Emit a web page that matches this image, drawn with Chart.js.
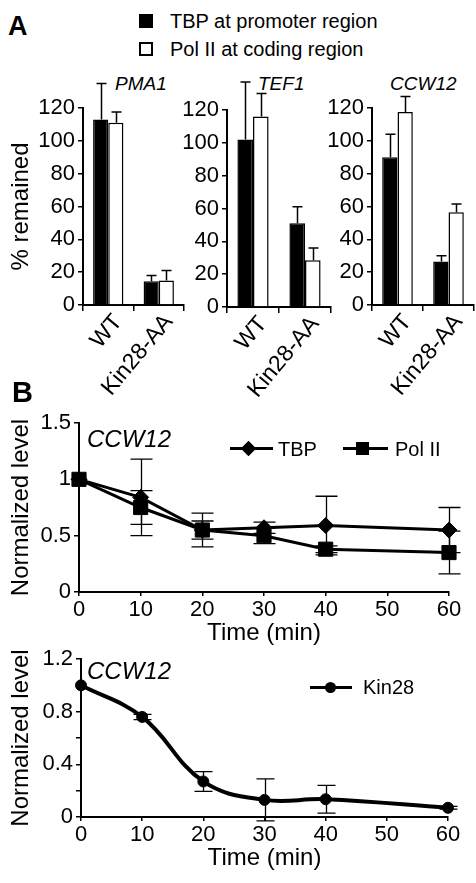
<!DOCTYPE html>
<html>
<head>
<meta charset="utf-8">
<script src="https://cdn.jsdelivr.net/npm/chart.js@4.4.0/dist/chart.umd.min.js"></script>
<style>
body{margin:0;width:476px;height:883px;background:#fff;position:relative;overflow:hidden;font-family:'Liberation Sans',Arial,sans-serif;color:#000}
canvas{position:absolute}
.t{position:absolute;white-space:nowrap;line-height:1}
.gene{font-style:italic}
.sq{position:absolute;width:14px;height:14px;box-sizing:border-box;border:2px solid #000}
.ln{position:absolute;height:3px;background:#000}
.mk{position:absolute;background:#000}
</style>
</head>
<body>
<div class="t" style="left:8px;top:13px;font-size:27px;font-weight:bold">A</div>
<div class="sq" style="left:139px;top:14px;background:#000"></div>
<div class="t" style="left:170px;top:11px;font-size:20px">TBP at promoter region</div>
<div class="sq" style="left:139px;top:42px;background:#fff"></div>
<div class="t" style="left:170px;top:39px;font-size:20px">Pol II at coding region</div>
<div class="t gene" style="left:115px;top:74px;font-size:19px">PMA1</div>
<div class="t gene" style="left:258px;top:74px;font-size:19px">TEF1</div>
<div class="t gene" style="left:390px;top:74px;font-size:19px">CCW12</div>

<canvas id="a1" width="190" height="340" style="left:0;top:60px"></canvas>
<canvas id="a2" width="170" height="340" style="left:170px;top:62px"></canvas>
<canvas id="a3" width="156" height="340" style="left:320px;top:60px"></canvas>

<div class="t" style="left:12px;top:378px;font-size:29px;font-weight:bold">B</div>
<canvas id="b1" width="476" height="250" style="left:0;top:400px"></canvas>
<canvas id="b2" width="476" height="243" style="left:0;top:640px"></canvas>

<div class="t gene" style="left:87px;top:427px;font-size:24px">CCW12</div>
<div class="ln" style="left:230px;top:447px;width:43px"></div>
<div class="mk" style="left:243px;top:443px;width:11px;height:11px;transform:rotate(45deg)"></div>
<div class="t" style="left:278px;top:439px;font-size:20px">TBP</div>
<div class="ln" style="left:343px;top:447px;width:45px"></div>
<div class="mk" style="left:356px;top:442px;width:13px;height:13px"></div>
<div class="t" style="left:395px;top:439px;font-size:20px">Pol II</div>

<div class="t gene" style="left:87px;top:659px;font-size:24px">CCW12</div>
<div class="ln" style="left:310px;top:686px;width:42px"></div>
<div class="mk" style="left:325px;top:682px;width:11px;height:11px;border-radius:50%"></div>
<div class="t" style="left:363px;top:677px;font-size:20px">Kin28</div>

<script>
// panel A: % remained
const strains = ['WT', 'Kin28-AA'];
const pctTicks = [0, 20, 40, 60, 80, 100, 120];
const tbpPMA1 = [113, 14.5], tbpPMA1Err = [22, 3.5];
const polPMA1 = [111, 15], polPMA1Err = [6.5, 6];
const tbpTEF1 = [102, 51], tbpTEF1Err = [35, 10];
const polTEF1 = [116, 28.5], polTEF1Err = [14, 7.5];
const tbpCCW12 = [90, 26.5], tbpCCW12Err = [14, 3.5];
const polCCW12 = [117.5, 56.5], polCCW12Err = [9.5, 5];

// panel B: time course
const timeMin = [0, 10, 20, 30, 40, 60];
const timeTicks = [0, 10, 20, 30, 40, 50, 60];
const tbpLevel = [1, 0.84, 0.55, 0.57, 0.59, 0.55];
const tbpLevelErr = [0, 0.34, 0.08, 0.05, 0.26, 0.2];
const polLevel = [1, 0.75, 0.55, 0.5, 0.38, 0.35];
const polLevelErr = [0, 0.15, 0.15, 0.07, 0.03, 0.19];
const kinLevel = [1, 0.76, 0.27, 0.13, 0.135, 0.07];
const kinLevelErr = [0, 0.02, 0.075, 0.16, 0.105, 0.01];

Chart.defaults.font.family = "'Liberation Sans', Arial, sans-serif";
Chart.defaults.color = '#000';

const errorBars = {
  id: 'errorBars',
  draw(chart, o) {
    const ctx = chart.ctx;
    chart.data.datasets.forEach((ds, i) => {
      if (!ds.errors) return;
      const meta = chart.getDatasetMeta(i);
      const ys = chart.scales[meta.yAxisID];
      ctx.save();
      ctx.strokeStyle = '#000';
      ctx.lineWidth = o.width;
      meta.data.forEach((el, j) => {
        const e = ds.errors[j];
        if (!e) return;
        const d = ds.data[j];
        const v = typeof d === 'object' ? d.y : d;
        const top = ys.getPixelForValue(v + e);
        const bot = o.upOnly ? el.y : ys.getPixelForValue(v - e);
        const x = Math.round(el.x) + 0.5;
        ctx.beginPath();
        ctx.moveTo(x, bot); ctx.lineTo(x, top);
        ctx.moveTo(x - o.cap / 2, top); ctx.lineTo(x + o.cap / 2, top);
        if (!o.upOnly) { ctx.moveTo(x - o.cap / 2, bot); ctx.lineTo(x + o.cap / 2, bot); }
        ctx.stroke();
      });
      ctx.restore();
    });
  },
  beforeDatasetsDraw(chart, args, o) { if (o.behind) this.draw(chart, o); },
  afterDatasetsDraw(chart, args, o) { if (!o.behind) this.draw(chart, o); }
};

function barChart(id, tbp, tbpErr, pol, polErr, yWidth, padLeft, padRight, title) {
  return new Chart(document.getElementById(id), {
    type: 'bar',
    data: {
      labels: strains,
      datasets: [
        { label: 'TBP at promoter region', data: tbp, errors: tbpErr, backgroundColor: '#000', borderColor: '#000', borderWidth: 1.5 },
        { label: 'Pol II at coding region', data: pol, errors: polErr, backgroundColor: '#fff', borderColor: '#000', borderWidth: 1.5 }
      ]
    },
    plugins: [errorBars],
    options: {
      responsive: false,
      animation: false,
      categoryPercentage: 0.6,
      barPercentage: 1,
      layout: { padding: { left: padLeft, right: padRight, top: 48, bottom: 0 } },
      plugins: {
        legend: { display: false },
        tooltip: { enabled: false },
        errorBars: { width: 1.5, cap: 10, upOnly: true }
      },
      scales: {
        x: {
          grid: { drawOnChartArea: false, tickLength: 6, color: '#000', lineWidth: 1.5 },
          border: { color: '#000', width: 2 },
          ticks: { minRotation: 50, maxRotation: 50, font: { size: 23 }, padding: -2, labelOffset: 10 },
          afterFit(s) { s.height = 95; }
        },
        y: {
          min: 0, max: 120,
          afterBuildTicks(s) { s.ticks = pctTicks.map(v => ({ value: v })); },
          grid: { drawOnChartArea: false, tickLength: 5, color: '#000', lineWidth: 1.5 },
          border: { color: '#000', width: 2 },
          ticks: { font: { size: 22 }, padding: 3 },
          title: { display: !!title, text: title, font: { size: 24 }, padding: { top: 3, bottom: 0 } },
          afterFit(s) { s.width = yWidth; }
        }
      }
    }
  });
}

barChart('a1', tbpPMA1, tbpPMA1Err, polPMA1, polPMA1Err, 79, 4, 6, '% remained');
barChart('a2', tbpTEF1, tbpTEF1Err, polTEF1, polTEF1Err, 57, 0, 9, '');
barChart('a3', tbpCCW12, tbpCCW12Err, polCCW12, polCCW12Err, 52, 0, 2, '');

function pts(ys) { return timeMin.map((t, i) => ({ x: t, y: ys[i] })); }

function lineOptions(yMax, yStep, yWidth, padRight, padBottom, padTop, cap, labelFn) {
  return {
    responsive: false,
    animation: false,
    layout: { padding: { left: 4, right: padRight, top: padTop, bottom: padBottom } },
    plugins: {
      legend: { display: false },
      tooltip: { enabled: false },
      errorBars: { width: 1.3, cap: cap, upOnly: false, behind: true }
    },
    scales: {
      x: {
        type: 'linear', min: 0, max: 60,
        afterBuildTicks(s) { s.ticks = timeTicks.map(v => ({ value: v })); },
        grid: { drawOnChartArea: false, tickLength: 4, color: '#000', lineWidth: 1.5 },
        border: { color: '#000', width: 2 },
        ticks: { font: { size: 22 }, padding: 1, maxRotation: 0, autoSkip: false },
        title: { display: true, text: 'Time (min)', font: { size: 24 }, padding: { top: 0, bottom: 2 } },
        afterFit(s) { s.height = 58; }
      },
      y: {
        min: 0, max: yMax,
        grid: { drawOnChartArea: false, tickLength: 5, color: '#000', lineWidth: 1.5 },
        border: { color: '#000', width: 2 },
        ticks: { stepSize: yStep, font: { size: 22 }, padding: 3, autoSkip: false, callback: labelFn },
        title: { display: true, text: 'Normalized level', font: { size: 24 }, padding: { top: 3, bottom: 0 } },
        afterFit(s) { s.width = yWidth; }
      }
    }
  };
}

new Chart(document.getElementById('b1'), {
  type: 'line',
  data: {
    datasets: [
      { label: 'TBP', data: pts(tbpLevel), errors: tbpLevelErr, borderColor: '#000', backgroundColor: '#000', borderWidth: 3,
        pointStyle: 'rectRot', pointRadius: 8, pointBorderWidth: 1, tension: 0, clip: false },
      { label: 'Pol II', data: pts(polLevel), errors: polLevelErr, borderColor: '#000', backgroundColor: '#000', borderWidth: 3,
        pointStyle: 'rect', pointRadius: 10, pointBorderWidth: 1, tension: 0, clip: false }
    ]
  },
  plugins: [errorBars],
  options: lineOptions(1.5, 0.5, 75, 27, 0, 23, 22, v => String(+v.toFixed(1)))
});

new Chart(document.getElementById('b2'), {
  type: 'line',
  data: {
    datasets: [
      { label: 'Kin28', data: pts(kinLevel), errors: kinLevelErr, borderColor: '#000', backgroundColor: '#000', borderWidth: 4,
        pointStyle: 'circle', pointRadius: 5.5, pointBorderWidth: 1, tension: 0.4, clip: false }
    ]
  },
  plugins: [errorBars],
  options: lineOptions(1.2, 0.2, 77, 28, 8, 19, 18, v => (Math.round(v * 10) % 4 === 0 ? String(+v.toFixed(1)) : ''))
});
</script>
</body>
</html>
